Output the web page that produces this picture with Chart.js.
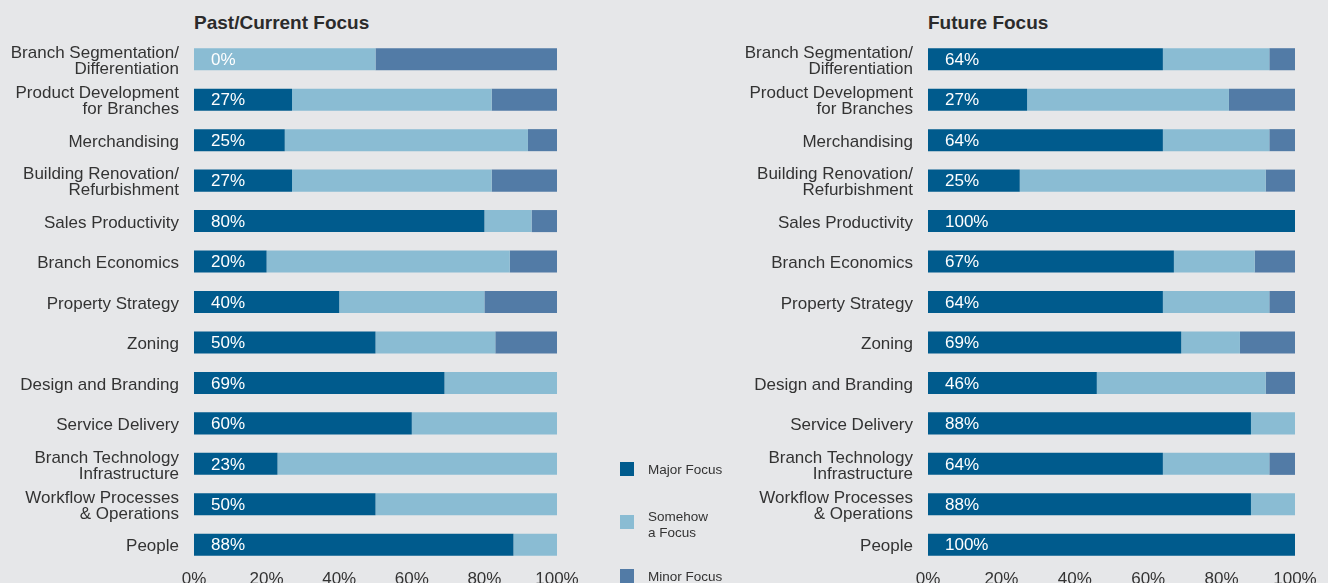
<!DOCTYPE html>
<html>
<head>
<meta charset="utf-8">
<script src="https://cdn.jsdelivr.net/npm/chart.js@4/dist/chart.umd.min.js"></script>
<style>
  html, body { margin: 0; padding: 0; background: #e6e7e9; overflow: hidden; }
  body { width: 1328px; height: 583px; position: relative; font-family: "Liberation Sans", Arial, sans-serif; color: #333; }
  canvas { position: absolute; top: 0; }
  .title { position: absolute; top: 12px; font-weight: bold; font-size: 19px; line-height: 22px; color: #2b2b2b; }
  .legend { position: absolute; left: 620px; font-size: 13.5px; line-height: 16px; color: #333; }
  .legend .sw { position: absolute; left: 0; width: 14px; height: 14px; }
  .legend .tx { position: absolute; left: 28px; white-space: nowrap; }
</style>
</head>
<body>
<div class="title" style="left:194px">Past/Current Focus</div>
<div class="title" style="left:928px">Future Focus</div>
<canvas id="past" width="600" height="583" style="left:0"></canvas>
<canvas id="future" width="608" height="583" style="left:720px"></canvas>
<div id="legend"></div>
<script>
// categories, top to bottom
const categories = [
  ["Branch Segmentation/", "Differentiation"],
  ["Product Development", "for Branches"],
  "Merchandising",
  ["Building Renovation/", "Refurbishment"],
  "Sales Productivity",
  "Branch Economics",
  "Property Strategy",
  "Zoning",
  "Design and Branding",
  "Service Delivery",
  ["Branch Technology", "Infrastructure"],
  ["Workflow Processes", "& Operations"],
  "People"
];

const seriesNames = ["Major Focus", ["Somehow", "a Focus"], "Minor Focus"];
const seriesColors = ["#005b8d", "#8abcd3", "#527ba6"];

const pastMajor   = [0, 27, 25, 27, 80, 20, 40, 50, 69, 60, 23, 50, 88];
const pastSomehow = [50, 55, 67, 55, 13, 67, 40, 33, 31, 40, 77, 50, 12];
const pastMinor   = [50, 18, 8, 18, 7, 13, 20, 17, 0, 0, 0, 0, 0];

const futureMajor   = [64, 27, 64, 25, 100, 67, 64, 69, 46, 88, 64, 88, 100];
const futureSomehow = [29, 55, 29, 67, 0, 22, 29, 16, 46, 12, 29, 12, 0];
const futureMinor   = [7, 18, 7, 8, 0, 11, 7, 15, 8, 0, 7, 0, 0];

const xTicks = [0, 20, 40, 60, 80, 100];

const FONT = '"Liberation Sans", Arial, sans-serif';

// white percentage label at the start of each bar (major focus value)
const valueLabels = {
  id: 'valueLabels',
  afterDatasetsDraw(chart) {
    const ctx = chart.ctx;
    const meta = chart.getDatasetMeta(0);
    const values = chart.data.datasets[0].data;
    ctx.save();
    ctx.fillStyle = '#ffffff';
    ctx.font = '17px ' + FONT;
    ctx.textBaseline = 'middle';
    ctx.textAlign = 'left';
    meta.data.forEach((bar, i) => {
      ctx.fillText(values[i] + '%', chart.chartArea.left + 17, bar.y + 1);
    });
    ctx.restore();
  }
};

function makeChart(id, major, somehow, minor, axisWidth, padRight) {
  const sets = [major, somehow, minor];
  return new Chart(document.getElementById(id), {
    type: 'bar',
    data: {
      labels: categories,
      datasets: sets.map((d, i) => ({
        label: [].concat(seriesNames[i]).join(' '),
        data: d,
        backgroundColor: seriesColors[i],
        borderWidth: 0,
        barPercentage: 0.545,
        categoryPercentage: 1
      }))
    },
    options: {
      indexAxis: 'y',
      responsive: false,
      animation: false,
      devicePixelRatio: 1,
      layout: { padding: { top: 39, right: padRight, left: 0, bottom: 0 } },
      plugins: { legend: { display: false }, tooltip: { enabled: false } },
      scales: {
        x: {
          stacked: true,
          min: 0,
          max: 100,
          afterBuildTicks(scale) { scale.ticks = xTicks.map(v => ({ value: v })); },
          afterFit(scale) {
            scale.height = 18;
            scale.paddingLeft = 0;
            scale.paddingRight = 0;
          },
          grid: { display: false, drawTicks: false },
          border: { display: false },
          ticks: {
            padding: 4,
            color: '#333',
            font: { family: FONT, size: 17 },
            callback: v => v + '%'
          }
        },
        y: {
          stacked: true,
          afterFit(scale) {
            scale.width = axisWidth;
            scale.paddingTop = 0;
            scale.paddingBottom = 0;
          },
          grid: { display: false, drawTicks: false },
          border: { display: false },
          ticks: {
            padding: 15,
            labelOffset: 2,
            color: '#333',
            font: { family: FONT, size: 17, lineHeight: '16px' }
          }
        }
      }
    },
    plugins: [valueLabels]
  });
}

makeChart('past', pastMajor, pastSomehow, pastMinor, 194, 43);
makeChart('future', futureMajor, futureSomehow, futureMinor, 208, 33);

// legend in the gap between the two charts
const legendTops = [462, 515, 569];
const legend = document.getElementById('legend');
seriesNames.forEach((name, i) => {
  const lines = [].concat(name);
  const item = document.createElement('div');
  item.className = 'legend';
  item.style.top = legendTops[i] + 'px';
  const sw = document.createElement('div');
  sw.className = 'sw';
  sw.style.background = seriesColors[i];
  const tx = document.createElement('div');
  tx.className = 'tx';
  tx.style.top = (lines.length > 1 ? -6 : 0) + 'px';
  tx.innerHTML = lines.join('<br>');
  item.appendChild(sw);
  item.appendChild(tx);
  legend.appendChild(item);
});
</script>
</body>
</html>
